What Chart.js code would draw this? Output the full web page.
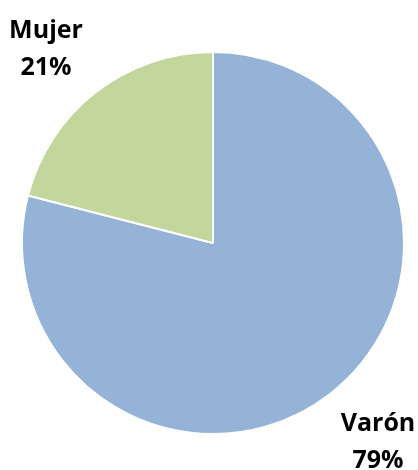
<!DOCTYPE html>
<html>
<head>
<meta charset="utf-8">
<script src="https://cdn.jsdelivr.net/npm/chart.js@4.4.0/dist/chart.umd.min.js"></script>
<style>
  html, body { margin: 0; padding: 0; background: #ffffff; }
  #wrap { width: 418px; height: 470px; position: relative; }
</style>
</head>
<body>
<div id="wrap"><canvas id="chart"></canvas></div>
<script>
const labels = ['Varón', 'Mujer'];
const values = [79, 21];
const colors = ['#95b3d7', '#c3d69b'];

// label anchors: centre x, baseline of the first line
const labelSpots = [
    { x: 378, y: 431 },
    { x: 46, y: 38 }
];

const sliceLabels = {
    id: 'sliceLabels',
    afterDraw(chart) {
        const ctx = chart.ctx;
        ctx.save();
        ctx.font = 'bold 25px "Open Sans", "Liberation Sans", sans-serif';
        ctx.fillStyle = '#000000';
        ctx.textAlign = 'center';
        ctx.textBaseline = 'alphabetic';
        labels.forEach((name, i) => {
            const spot = labelSpots[i];
            ctx.fillText(name, spot.x, spot.y);
            ctx.fillText(values[i] + '%', spot.x, spot.y + 37);
        });
        ctx.restore();
    }
};

new Chart(document.getElementById('chart'), {
    type: 'pie',
    data: {
        labels: labels,
        datasets: [{
            data: values,
            backgroundColor: colors,
            borderColor: '#ffffff',
            borderWidth: 2
        }]
    },
    options: {
        responsive: true,
        maintainAspectRatio: false,
        animation: false,
        layout: {
            padding: { top: 51, bottom: 35, left: 21, right: 13 }
        },
        plugins: {
            legend: { display: false },
            tooltip: { enabled: false }
        }
    },
    plugins: [sliceLabels]
});
</script>
</body>
</html>
